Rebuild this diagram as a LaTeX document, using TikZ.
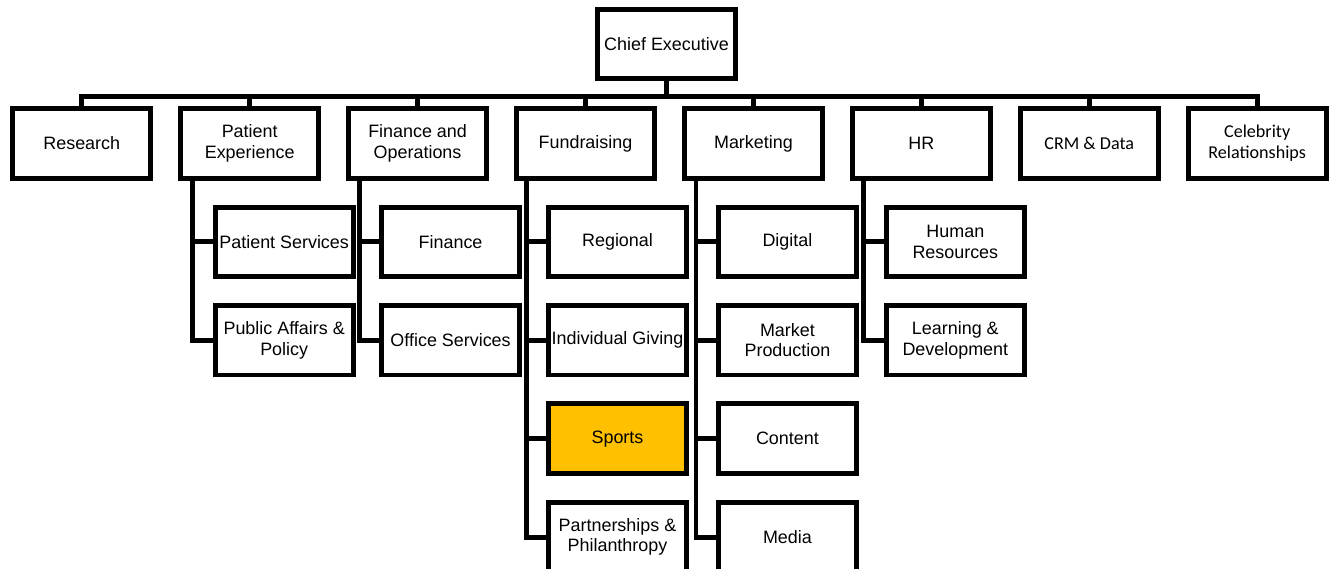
\documentclass[tikz,border=0pt]{standalone}
\usepackage{fontspec}
\setmainfont{Liberation Sans}
\newfontfamily\calibrifont{Carlito}
\usetikzlibrary{positioning}
\definecolor{sportsgold}{HTML}{FFC000}

\tikzset{
  unit/.style={draw, line width=2.8pt, minimum width=2.76cm, minimum height=1.39cm,
    inner sep=1pt, align=center, font=\fontsize{10.2pt}{11.5pt}\selectfont},
  smallunit/.style={unit, font=\calibrifont\fontsize{10.3pt}{12pt}\selectfont},
  link/.style={line width=2.8pt},
}

\begin{document}
\begin{tikzpicture}[node distance=0.48cm]
  \useasboundingbox (0,0) rectangle (26.6,-11.36);
  \node[unit] (chief) at (13.33,-0.88) {Chief Executive};
  % top row
  \node[unit, below=0.5cm of chief, xshift=-1.62cm] (fund) {Fundraising};
  \node[unit, left=0.5cm of fund] (finops) {Finance and\\Operations};
  \node[unit, left=0.5cm of finops] (pexp) {Patient\\Experience};
  \node[unit, left=0.5cm of pexp] (res) {Research};
  \node[unit, right=0.5cm of fund] (mkt) {Marketing};
  \node[unit, right=0.5cm of mkt] (hr) {HR};
  \node[smallunit, right=0.5cm of hr] (crm) {CRM \& Data};
  \node[smallunit, right=0.5cm of crm] (celeb) {Celebrity\\Relationships};
  % teams
  \node[unit, below=of pexp, xshift=0.69cm] (psvc) {Patient Services};
  \node[unit, below=of psvc] (pubaff) {Public Affairs \&\\Policy};
  \node[unit, below=of finops, xshift=0.66cm] (fin) {Finance};
  \node[unit, below=of fin] (office) {Office Services};
  \node[unit, below=of fund, xshift=0.64cm] (reg) {Regional};
  \node[unit, below=of reg] (indiv) {Individual Giving};
  \node[unit, below=of indiv, fill=sportsgold] (sport) {Sports};
  \node[unit, below=of sport] (partner) {Partnerships \&\\Philanthropy};
  \node[unit, below=of mkt, xshift=0.68cm] (digital) {Digital};
  \node[unit, below=of digital] (mprod) {Market\\Production};
  \node[unit, below=of mprod] (content) {Content};
  \node[unit, below=of content] (media) {Media};
  \node[unit, below=of hr, xshift=0.68cm] (hres) {Human\\Resources};
  \node[unit, below=of hres] (learn) {Learning \&\\Development};
  % links
  \foreach \n in {res,pexp,finops,fund,mkt,hr,crm,celeb}
    \draw[link] (chief.south) -- ++(0,-0.3) -| (\n.north);
  \foreach \p/\c in {pexp/psvc, pexp/pubaff, finops/fin, finops/office,
      fund/reg, fund/indiv, fund/sport, fund/partner,
      mkt/digital, mkt/mprod, mkt/content, mkt/media, hr/hres, hr/learn} {
    \path (\c.west) ++(-0.4,0) coordinate (trunk);
    \draw[link] (\p.south -| trunk) |- (\c.west);
  }
\end{tikzpicture}
\end{document}
